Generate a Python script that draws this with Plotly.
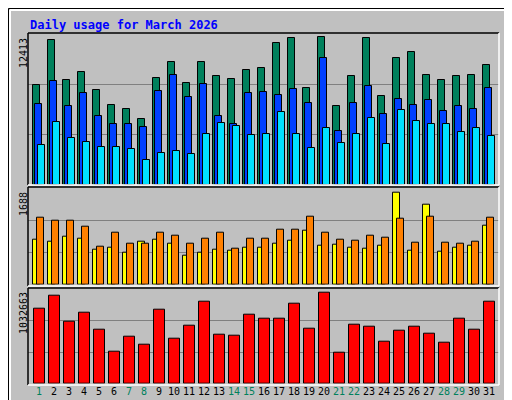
import plotly.graph_objects as go

days = list(range(1, 32))
hits = [8360, 12160, 8782, 9457, 7937, 6671, 6333, 5489, 8951, 10302, 8528, 10302, 9120, 8866, 9626, 9795,
        11906, 12329, 8106, 12413, 6586, 9120, 12329, 7431, 10639, 11146, 9204, 8782, 9120, 9204, 10048]
files = [6755, 8697, 6586, 7684, 5742, 5066, 5066, 4813, 7853, 9204, 7346, 8444, 5742, 5066, 7684, 7768,
         7515, 8022, 6840, 10639, 4475, 6840, 8275, 5911, 7177, 6671, 7093, 6164, 6586, 6333, 8106]
pages = [3293, 5235, 3884, 3546, 3124, 3124, 2955, 2027, 2618, 2787, 2533, 4222, 5151, 4898, 4138, 4222,
         6080, 4222, 3040, 4729, 3462, 4222, 5573, 3378, 6249, 5320, 5066, 5066, 4391, 4729, 4053]
visits = [826, 789, 881, 844, 642, 679, 587, 789, 826, 752, 532, 587, 642, 624, 679, 679, 752, 807, 991,
          716, 734, 679, 661, 716, 1688, 624, 1468, 605, 679, 716, 1083]
sites = [1229, 1174, 1174, 1064, 697, 954, 752, 752, 954, 899, 752, 844, 954, 661, 844, 844, 1009, 1009,
         1248, 954, 826, 807, 899, 862, 1211, 771, 1248, 771, 752, 789, 1229]
kbytes = [851085, 998606, 703564, 805694, 612781, 363130, 533347, 442566, 839737, 510655, 658172, 930520,
          556042, 544694, 782998, 737607, 737607, 907824, 624129, 1032663, 351782, 669520, 646825, 476608,
          601433, 646825, 567390, 465260, 737607, 612781, 930520]
weekend = {1, 7, 8, 14, 15, 21, 22, 28, 29}

FONT = "DejaVu Sans Mono"
fig = go.Figure()
line = dict(color="black", width=1)

def bar(y, color, off, w, xa, ya):
    fig.add_trace(go.Bar(x=days, y=y, marker=dict(color=color, line=line), offset=off, width=w,
                         xaxis=xa, yaxis=ya, showlegend=False, hoverinfo="y"))

bar(hits, "#00805C", -0.38, 0.467, "x", "y")
bar(files, "#0040FF", -0.247, 0.467, "x", "y")
bar(pages, "#00E0FF", -0.087, 0.467, "x", "y")
bar(visits, "#FFFF00", -0.38, 0.467, "x2", "y2")
bar(sites, "#FF8000", -0.113, 0.467, "x2", "y2")
bar(kbytes, "#FF0000", -0.313, 0.69, "x3", "y3")

W, H = 512, 400
def py(pix):
    return 1 - pix / H

xr = [0.267, 31.67]
xdom = [20 / W, 491 / W]
r1 = max(hits) * 150 / 147
r2 = max(visits) * 95.6 / 92
r3 = max(kbytes) * 93.6 / 91

def yax(dom, r):
    return dict(domain=dom, range=[0, r], tickvals=[r / 3, 2 * r / 3], showticklabels=False,
                showgrid=True, gridcolor="#808080", gridwidth=1, zeroline=False, ticks="", fixedrange=True)

def xax(anchor, show):
    d = dict(domain=xdom, range=xr, anchor=anchor, showgrid=False, zeroline=False, ticks="",
             showticklabels=False)
    if show:
        d.update(showticklabels=True, tickvals=days,
                 ticktext=[f'<span style="color:{"#00805C" if d_ in weekend else "black"}">{d_}</span>' for d_ in days],
                 tickfont=dict(family=FONT, size=10))
    return d

fig.update_layout(
    width=W, height=H, margin=dict(l=0, r=0, t=0, b=0),
    paper_bgcolor="#C0C0C0", plot_bgcolor="#C0C0C0", barmode="overlay", bargap=0,
    xaxis=xax("y", False), xaxis2=xax("y2", False), xaxis3=xax("y3", True),
    yaxis=yax([py(176.5), py(26)], r1),
    yaxis2=yax([py(276.5), py(180.7)], r2),
    yaxis3=yax([py(375.5), py(281.7)], r3),
)

shapes = []
def rect(x0, y0, x1, y1, color, w=1):
    shapes.append(dict(type="rect", xref="paper", yref="paper", x0=x0 / W, x1=x1 / W, y0=py(y1), y1=py(y0),
                       line=dict(color=color, width=w)))
def ln(x0, y0, x1, y1, color, w=1):
    shapes.append(dict(type="line", xref="paper", yref="paper", x0=x0 / W, x1=x1 / W, y0=py(y0), y1=py(y1),
                       line=dict(color=color, width=w)))

# outer bevel
ln(2, 2, 509, 2, "white", 2); ln(2, 2, 2, 397, "white", 2)
ln(509, 3, 509, 397, "#808080", 4); ln(3, 397, 509, 397, "#808080", 4)
rect(0.5, 0.5, 511.5, 399.5, "black", 1)
# panel frames
for (t, b) in [(25, 177), (179, 278), (280, 377)]:
    ln(20, t, 491, t, "black", 1.5); ln(20, t, 20, b, "black", 1.5)
    ln(20, b, 491, b, "white", 1.5); ln(491, t, 491, b, "white", 1.5)
fig.update_layout(shapes=shapes)

ann = [
    dict(x=20 / W, y=py(8), text="<b>Daily usage for March 2026</b>", xanchor="left", yanchor="top",
         font=dict(family=FONT, size=12, color="#0000FF")),
    dict(x=15 / W, y=py(28), text="12413", textangle=-90, yanchor="top"),
    dict(x=15 / W, y=py(182), text="1688", textangle=-90, yanchor="top"),
    dict(x=15 / W, y=py(282), text="1032663", textangle=-90, yanchor="top"),
    dict(x=494 / W, y=py(28), yanchor="top", xanchor="left", textangle=-90,
         text='<span style="color:#00E0FF">Pages</span> / <span style="color:#0040FF">Files</span> / <span style="color:#00805C">Hits</span>'),
    dict(x=494 / W, y=py(198), yanchor="top", xanchor="left", textangle=-90,
         text='<span style="color:#FF8000">Sites</span> / <span style="color:#FFFF00">Visits</span>'),
    dict(x=494 / W, y=py(377), yanchor="bottom", xanchor="left", textangle=-90,
         text='<span style="color:#FF0000">KBytes</span>'),
]
for a in ann:
    a.setdefault("font", dict(family=FONT, size=10, color="black"))
    a.update(xref="paper", yref="paper", showarrow=False)
    a.setdefault("xanchor", "center")
fig.update_layout(annotations=ann)

fig.write_html("out.html")
